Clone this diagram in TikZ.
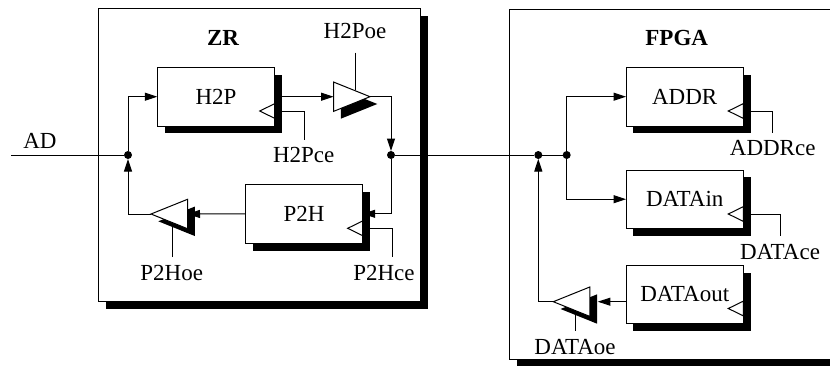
\documentclass[tikz,border=0pt]{standalone}
\usepackage{fontspec}
\setmainfont{Liberation Serif}
\usetikzlibrary{shapes.geometric,shadows,arrows.meta}
\tikzset{
  blockshadow/.style={general shadow={fill=black, shadow xshift=7.3pt, shadow yshift=-7.3pt}},
  outerbox/.style={rectangle, draw=black, fill=white, line width=1pt, outer sep=0pt, inner sep=0pt, blockshadow},
  regbox/.style={outerbox, minimum width=117.4pt, font=\fontsize{23}{25}\selectfont},
  buffer/.style={isosceles triangle, isosceles triangle stretches, minimum width=29.4pt, minimum height=36.5pt, draw=black, fill=white, line width=1pt, inner sep=0pt, outer sep=0pt, blockshadow},
  clockmark/.style={isosceles triangle, isosceles triangle stretches, shape border rotate=180, minimum width=14.7pt, minimum height=15pt, draw=black, fill=white, line width=1pt, inner sep=0pt, outer sep=0pt, anchor=apex},
  junction/.style={circle, fill=black, minimum size=8pt, inner sep=0pt, outer sep=0pt},
  name text/.style={inner sep=0pt, font=\fontsize{23}{25}\selectfont},
  title text/.style={inner sep=0pt, font=\fontsize{23}{25}\selectfont\bfseries},
  wire/.style={line width=1pt, color=black},
  sig/.style={wire, -{Triangle[length=12.5pt,width=8pt]}}
}
\begin{document}
\begin{tikzpicture}
\clip (0pt, 0pt) rectangle (830pt, -365pt);
\node (zr) [outerbox, minimum width=322.3pt, minimum height=292.7pt] at (259.8pt, -155.3pt) {};
\node (fpga) [outerbox, minimum width=340pt, minimum height=350.3pt] at (679.3pt, -184.2pt) {};
\node (zrtitle) [title text] at (223pt, -38.3pt) {ZR};
\node (fpgatitle) [title text] at (676.7pt, -38.3pt) {FPGA};
\node (h2p) [regbox, minimum height=58.7pt] at (216pt, -96.7pt) {H2P};
\node (p2h) [regbox, minimum height=59pt] at (304pt, -213.8pt) {P2H};
\node (addr) [regbox, minimum height=58.7pt] at (684.7pt, -96.7pt) {ADDR};
\node (datain) [regbox, minimum height=58.3pt] at (684.7pt, -199.2pt) {DATAin};
\node (dataout) [regbox, minimum height=58pt] at (684.7pt, -294.3pt) {DATAout};
\node (h2pck) [clockmark] at (259.7pt, -111pt) {};
\node (p2hck) [clockmark] at (347.7pt, -228.3pt) {};
\node (addrck) [clockmark] at (728.3pt, -111pt) {};
\node (datainck) [clockmark] at (728.3pt, -214pt) {};
\node (dataoutck) [clockmark] at (728.3pt, -308.5pt) {};
\node (h2pbuf) [buffer, anchor=apex] at (370pt, -96.7pt) {};
\node (p2hbuf) [buffer, shape border rotate=180, anchor=apex] at (151pt, -214pt) {};
\node (databuf) [buffer, shape border rotate=180, anchor=apex] at (553.3pt, -301.7pt) {};
\node (j1) [junction] at (128pt, -155pt) {};
\node (j2) [junction] at (391pt, -155pt) {};
\node (j3) [junction] at (538.3pt, -155pt) {};
\node (j4) [junction] at (566.7pt, -155pt) {};
\coordinate (adin) at (11pt, -155pt);
\coordinate (h2poetop) at (355.3pt, -52.7pt);
\coordinate (h2poeend) at (355.3pt, -90pt);
\coordinate (p2hoebot) at (172pt, -257pt);
\coordinate (p2hoeend) at (172pt, -223pt);
\coordinate (dataoebot) at (575pt, -330.7pt);
\coordinate (dataoeend) at (575pt, -310pt);
\coordinate (h2pcebot) at (304pt, -140pt);
\coordinate (p2hcebot) at (392pt, -257pt);
\coordinate (addrcebot) at (772.7pt, -133pt);
\coordinate (datacebot) at (780pt, -236pt);
\draw [wire] (adin) to (j1);
\draw [wire] (j2) to (j3);
\draw [wire] (j3) to (j4);
\draw [sig] (j1) |- (h2p.west);
\draw [sig] (p2hbuf.apex) -| (j1);
\draw [sig] (h2p.east) to (h2pbuf.west);
\draw [sig] (h2pbuf.apex) -| (j2);
\draw [sig] (j2) |- (p2h.east);
\draw [sig] (p2h.west) to (p2hbuf.east);
\draw [sig] (j4) |- (addr.west);
\draw [sig] (j4) |- (datain.west);
\draw [sig, shorten >=8pt] (dataout.west |- databuf.east) to (databuf.east);
\draw [sig] (databuf.apex) -| (j3);
\draw [wire] (h2poetop) to (h2poeend);
\draw [wire] (p2hoebot) to (p2hoeend);
\draw [wire] (dataoebot) to (dataoeend);
\draw [wire] (h2pck.east) -| (h2pcebot);
\draw [wire] (p2hck.east) -| (p2hcebot);
\draw [wire] (addrck.east) -| (addrcebot);
\draw [wire] (datainck.east) -| (datacebot);
\node (ad) [name text] at (40pt, -140.7pt) {AD};
\node (h2poe) [name text] at (355pt, -31pt) {H2Poe};
\node (h2pce) [name text] at (303.7pt, -155pt) {H2Pce};
\node (p2hoe) [name text] at (171.7pt, -273pt) {P2Hoe};
\node (p2hce) [name text] at (384pt, -273pt) {P2Hce};
\node (addrce) [name text] at (772.7pt, -148pt) {ADDRce};
\node (datace) [name text] at (780pt, -251.7pt) {DATAce};
\node (dataoe) [name text] at (575pt, -346.7pt) {DATAoe};
\end{tikzpicture}
\end{document}
